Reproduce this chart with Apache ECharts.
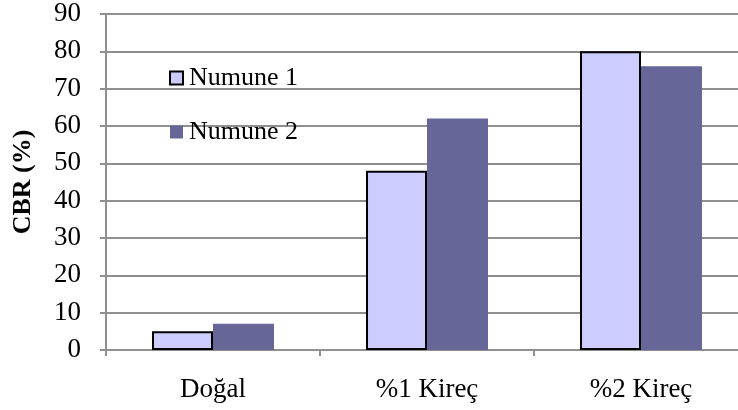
<!DOCTYPE html>
<html>
<head>
<meta charset="utf-8">
<script src="https://cdn.jsdelivr.net/npm/echarts@6/dist/echarts.min.js"></script>
<style>
  html, body { margin: 0; padding: 0; background: #fff; }
  #chart { width: 738px; height: 410px; }
</style>
</head>
<body>
<div id="chart"></div>
<script>
// CBR values per lime content for two samples
const categories = ['Doğal', '%1 Kireç', '%2 Kireç'];
const numune1 = [5, 48, 80];
const numune2 = [7, 62, 76];
const seriesNames = ['Numune 1', 'Numune 2'];
const yAxisTitle = 'CBR (%)';

const FONT = '"Liberation Serif", "DejaVu Serif", serif';
const GRID_COLOR = '#8f8f8f';

const chart = echarts.init(document.getElementById('chart'), null, { renderer: 'canvas' });

chart.setOption({
  animation: false,
  backgroundColor: '#ffffff',
  grid: {
    left: 106, right: -10, top: 14, bottom: 60,
    containLabel: false,
    outerBoundsMode: 'none'
  },
  legend: {
    orient: 'vertical',
    left: 164,
    top: 60,
    icon: 'rect',
    itemWidth: 13,
    itemHeight: 13,
    itemGap: 28,
    data: seriesNames,
    textStyle: {
      fontFamily: FONT,
      fontSize: 26,
      color: '#000',
      padding: [0, 0, 0, 1]
    }
  },
  xAxis: {
    type: 'category',
    data: categories,
    axisLine: { lineStyle: { color: GRID_COLOR, width: 2 } },
    axisTick: { show: true, alignWithLabel: false, interval: 0, length: 6, lineStyle: { color: GRID_COLOR, width: 2 } },
    axisLabel: { fontFamily: FONT, fontSize: 27, color: '#000', margin: 26, interval: 0 },
    splitLine: { show: false }
  },
  yAxis: {
    type: 'value',
    min: 0,
    max: 90,
    interval: 10,
    name: yAxisTitle,
    nameLocation: 'middle',
    nameGap: 70,
    nameRotate: 90,
    nameTextStyle: { fontFamily: FONT, fontSize: 26, fontWeight: 'bold', color: '#000' },
    axisLine: { show: true, lineStyle: { color: GRID_COLOR, width: 2 } },
    axisTick: { show: true, inside: false, length: 6, lineStyle: { color: GRID_COLOR, width: 2 } },
    axisLabel: { fontFamily: FONT, fontSize: 27, color: '#000', margin: 25 },
    splitLine: { show: true, lineStyle: { color: GRID_COLOR, width: 2 } }
  },
  series: [
    {
      name: seriesNames[0],
      type: 'bar',
      data: numune1,
      barGap: '0%',
      barCategoryGap: '43%',
      itemStyle: { color: '#ccccff', borderColor: '#000000', borderWidth: 2 }
    },
    {
      name: seriesNames[1],
      type: 'bar',
      data: numune2,
      barGap: '0%',
      barCategoryGap: '43%',
      itemStyle: { color: '#666699', borderWidth: 0 }
    }
  ]
});
</script>
</body>
</html>
